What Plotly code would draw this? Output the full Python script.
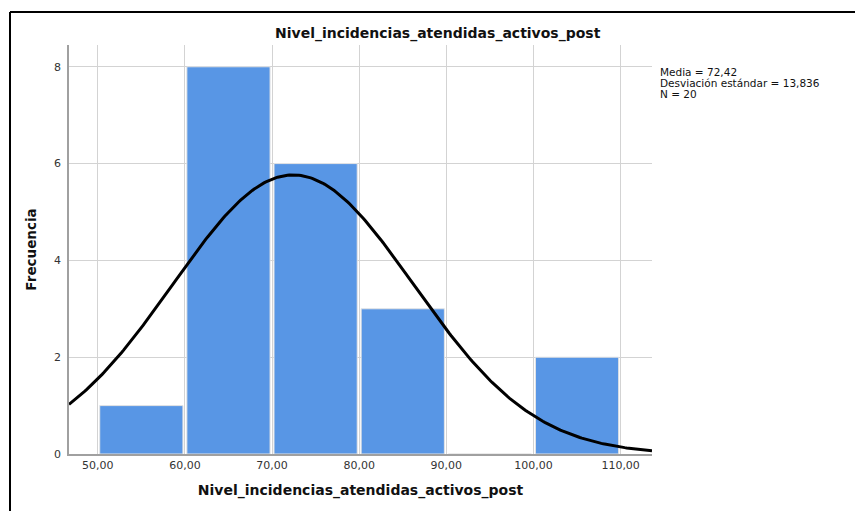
import numpy as np
import plotly.graph_objects as go

# Data
bin_left = [50, 60, 70, 80, 90, 100]
frequencies = [1, 8, 6, 3, 0, 2]
bin_width = 10
media = 72.42
desviacion = 13.836
n_total = 20
x_ticks = [50, 60, 70, 80, 90, 100, 110]
x_tick_labels = ["50,00", "60,00", "70,00", "80,00", "90,00", "100,00", "110,00"]
y_ticks = [0, 2, 4, 6, 8]

x_range = [46.7, 113.6]
y_range = [0, 8.45]

# Layout geometry (pixels)
W, H = 855, 511
L, R, T, B = 69, 203, 45, 57
pw, ph = W - L - R, H - T - B

def px_x(p):
    return (p - L) / pw

def px_y(p):
    return (H - B - p) / ph

centers = [b + bin_width / 2 for b in bin_left]

# Normal curve fitted from the stated mean / SD / N
xc = np.linspace(x_range[0], x_range[1], 300)
yc = n_total * bin_width / (desviacion * np.sqrt(2 * np.pi)) * np.exp(-0.5 * ((xc - media) / desviacion) ** 2)

fig = go.Figure()
fig.add_trace(go.Bar(
    x=centers, y=frequencies, width=9.55,
    marker=dict(color="#5896e5", line=dict(color="#e4e4e4", width=1)),
    hoverinfo="skip",
))
fig.add_trace(go.Scatter(
    x=xc, y=yc, mode="lines", line=dict(color="black", width=3), hoverinfo="skip",
))

font = "DejaVu Sans"
legend_lines = [
    f"Media = {media:.2f}".replace(".", ","),
    f"Desviación estándar = {desviacion:.3f}".replace(".", ","),
    f"N = {n_total}",
]
annotations = [
    dict(text="<b>Nivel_incidencias_atendidas_activos_post</b>",
         x=px_x(438), y=px_y(33), xref="paper", yref="paper",
         xanchor="center", yanchor="middle", showarrow=False,
         font=dict(size=14, color="#111", family=font)),
]
for i, t in enumerate(legend_lines):
    annotations.append(dict(
        text=t, x=px_x(658), y=px_y(72 + 11 * i), xref="paper", yref="paper",
        xanchor="left", yanchor="middle", align="left", showarrow=False,
        font=dict(size=10.5, color="#111", family=font)))

fig.update_layout(
    width=W, height=H,
    margin=dict(l=L, r=R, t=T, b=B, pad=0),
    paper_bgcolor="white", plot_bgcolor="white",
    showlegend=False,
    font=dict(family=font, color="#333333", size=11),
    xaxis=dict(
        range=x_range, tickvals=x_ticks, ticktext=x_tick_labels,
        showgrid=True, gridcolor="#d3d3d3", gridwidth=1,
        showline=True, linecolor="#a0a0a0", linewidth=1.5,
        ticks="", zeroline=False, tickfont=dict(size=11, color="#333"),
        title=dict(text="<b>Nivel_incidencias_atendidas_activos_post</b>",
                   font=dict(size=14, color="#111"), standoff=14),
    ),
    yaxis=dict(
        range=y_range, tickvals=y_ticks,
        showgrid=True, gridcolor="#d3d3d3", gridwidth=1,
        showline=True, linecolor="#a0a0a0", linewidth=1.5,
        ticks="", zeroline=False, tickfont=dict(size=11, color="#333"),
        ticklabelstandoff=4,
        title=dict(text="<b>Frecuencia</b>", font=dict(size=13.5, color="#111"), standoff=14),
    ),
    annotations=annotations,
    shapes=[
        dict(type="line", xref="paper", yref="paper",
             x0=px_x(10), x1=px_x(10), y0=px_y(12), y1=px_y(530),
             line=dict(color="black", width=2)),
        dict(type="line", xref="paper", yref="paper",
             x0=px_x(10), x1=px_x(870), y0=px_y(12), y1=px_y(12),
             line=dict(color="black", width=2)),
    ],
)

fig.write_html("out.html")
